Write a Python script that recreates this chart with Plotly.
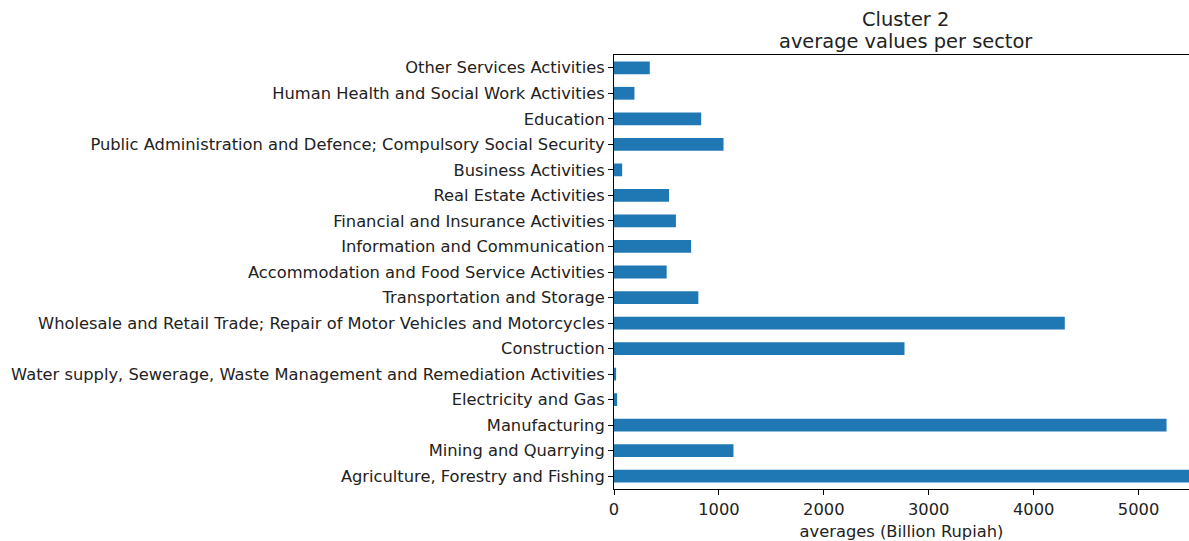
import plotly.graph_objects as go

sectors = [
    "Agriculture, Forestry and Fishing",
    "Mining and Quarrying",
    "Manufacturing",
    "Electricity and Gas",
    "Water supply, Sewerage, Waste Management and Remediation Activities",
    "Construction",
    "Wholesale and Retail Trade; Repair of Motor Vehicles and Motorcycles",
    "Transportation and Storage",
    "Accommodation and Food Service Activities",
    "Information and Communication",
    "Financial and Insurance Activities",
    "Real Estate Activities",
    "Business Activities",
    "Public Administration and Defence; Compulsory Social Security",
    "Education",
    "Human Health and Social Work Activities",
    "Other Services Activities",
]
averages = [5650, 1139, 5267, 30, 20, 2769, 4297, 804, 502, 735, 590, 525, 78, 1044, 831, 195, 341]

x_ticks = [0, 1000, 2000, 3000, 4000, 5000]

title_line1 = "Cluster 2"
title_line2 = "average values per sector"
x_title = "averages (Billion Rupiah)"

fig = go.Figure(
    go.Bar(
        x=averages,
        y=sectors,
        orientation="h",
        marker=dict(color="#1f77b4", line=dict(width=0)),
    )
)

fig.update_layout(
    width=1189,
    height=541,
    margin=dict(l=614, r=0, t=55, b=52),
    paper_bgcolor="white",
    plot_bgcolor="white",
    bargap=0.5,
    showlegend=False,
    font=dict(family="DejaVu Sans", size=16.3, color="#222222"),
)

fig.update_xaxes(
    range=[0, 5481],
    tickvals=x_ticks,
    ticktext=[str(v) for v in x_ticks],
    ticks="outside",
    ticklen=5,
    tickcolor="black",
    showline=True,
    linecolor="black",
    linewidth=1,
    mirror=True,
    showgrid=False,
    zeroline=False,
    title=dict(text=x_title, font=dict(size=16.3), standoff=8),
)
fig.update_yaxes(
    categoryorder="array",
    categoryarray=sectors,
    range=[-0.5, len(sectors) - 0.5],
    ticks="outside",
    ticklen=5,
    tickcolor="black",
    showline=True,
    linecolor="black",
    linewidth=1,
    showgrid=False,
    zeroline=False,
)

title_x = (905 - 614) / (1189 - 614)
fig.add_annotation(
    text=title_line1, xref="paper", yref="paper", x=title_x, y=1.0,
    xanchor="center", yanchor="middle", yshift=36, showarrow=False,
    font=dict(size=19.4, color="#222222"),
)
fig.add_annotation(
    text=title_line2, xref="paper", yref="paper", x=title_x, y=1.0,
    xanchor="center", yanchor="middle", yshift=14, showarrow=False,
    font=dict(size=19.4, color="#222222"),
)

fig.write_html(
    "out.html",
    config={"displayModeBar": False},
    post_script="document.body.style.margin='0';document.body.style.overflow='hidden';",
)
